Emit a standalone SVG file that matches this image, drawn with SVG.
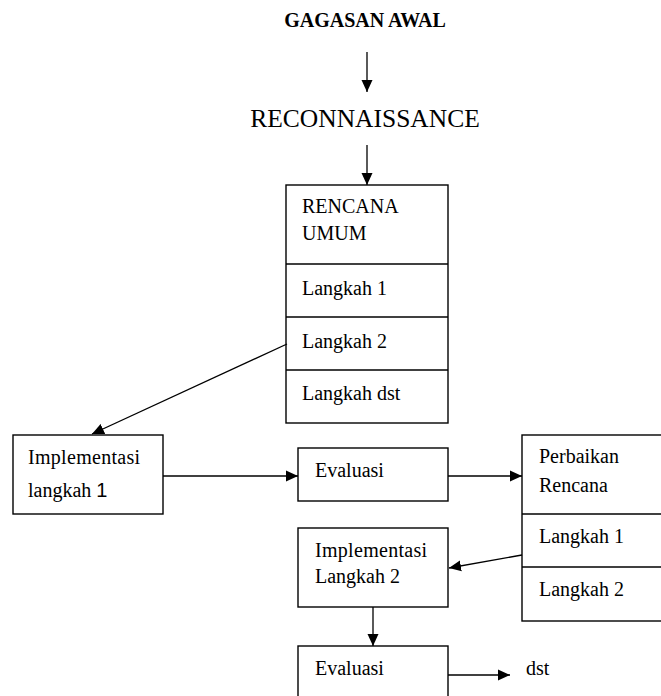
<svg xmlns="http://www.w3.org/2000/svg" width="661" height="696" viewBox="0 0 661 696">
<defs>
<marker id="ah" viewBox="0 0 12 12" refX="12" refY="6" markerWidth="12" markerHeight="12" markerUnits="userSpaceOnUse" orient="auto">
<path d="M0,0.5 L12,6 L0,11.5 Z" fill="#000"/>
</marker>
</defs>
<style>
.t{font-family:"Liberation Serif","Times New Roman",serif;font-size:20px;fill:#000}
.b{fill:#fff;stroke:#000;stroke-width:1.4}
.c{stroke:#000;stroke-width:1.3;fill:none;marker-end:url(#ah)}
</style>
<rect width="661" height="696" fill="#fff"/>
<g id="gagasan"><text x="365" y="27" text-anchor="middle" class="t" style="font-weight:bold;font-size:20px">GAGASAN AWAL</text></g>
<g id="reconnaissance"><text x="365" y="127" text-anchor="middle" class="t" style="font-size:25.5px">RECONNAISSANCE</text></g>
<g id="rencana-umum">
<rect class="b" x="286" y="185" width="162" height="238"/>
<line x1="286" y1="264" x2="448" y2="264" stroke="#000" stroke-width="1.4"/>
<line x1="286" y1="317" x2="448" y2="317" stroke="#000" stroke-width="1.4"/>
<line x1="286" y1="370" x2="448" y2="370" stroke="#000" stroke-width="1.4"/>
<text class="t" x="302" y="213">RENCANA</text>
<text class="t" x="302" y="240">UMUM</text>
<text class="t" x="302" y="295">Langkah 1</text>
<text class="t" x="302" y="348">Langkah 2</text>
<text class="t" x="302" y="400">Langkah dst</text>
</g>
<g id="impl1">
<rect class="b" x="13" y="435" width="150" height="79"/>
<text class="t" x="28" y="464" style="letter-spacing:0.3px">Implementasi</text>
<text class="t" x="28" y="497">langkah <tspan style="font-family:'Liberation Sans',Arial,sans-serif;font-size:20px">1</tspan></text>
</g>
<g id="eval1">
<rect class="b" x="298" y="448" width="150" height="53"/>
<text class="t" x="315" y="477">Evaluasi</text>
</g>
<g id="perbaikan">
<rect class="b" x="522" y="435" width="142" height="186"/>
<line x1="522" y1="514" x2="664" y2="514" stroke="#000" stroke-width="1.4"/>
<line x1="522" y1="567" x2="664" y2="567" stroke="#000" stroke-width="1.4"/>
<text class="t" x="539" y="463">Perbaikan</text>
<text class="t" x="539" y="492">Rencana</text>
<text class="t" x="539" y="543">Langkah 1</text>
<text class="t" x="539" y="596">Langkah 2</text>
</g>
<g id="impl2">
<rect class="b" x="298" y="528" width="150" height="79"/>
<text class="t" x="315" y="557" style="letter-spacing:0.3px">Implementasi</text>
<text class="t" x="315" y="583">Langkah 2</text>
</g>
<g id="eval2">
<rect class="b" x="298" y="646" width="150" height="60"/>
<text class="t" x="315" y="675">Evaluasi</text>
</g>
<g id="dst"><text class="t" x="526" y="675">dst</text></g>
<g id="connectors">
<line class="c" x1="367" y1="52" x2="367" y2="92"/>
<line class="c" x1="367" y1="145" x2="367" y2="185"/>
<line class="c" x1="287" y1="344" x2="92" y2="434"/>
<line class="c" x1="163" y1="476" x2="298" y2="476"/>
<line class="c" x1="448" y1="476" x2="522" y2="476"/>
<line class="c" x1="522" y1="555" x2="449" y2="568"/>
<line class="c" x1="373" y1="607" x2="373" y2="646"/>
<line class="c" x1="448" y1="675" x2="510" y2="675"/>
</g>
</svg>
